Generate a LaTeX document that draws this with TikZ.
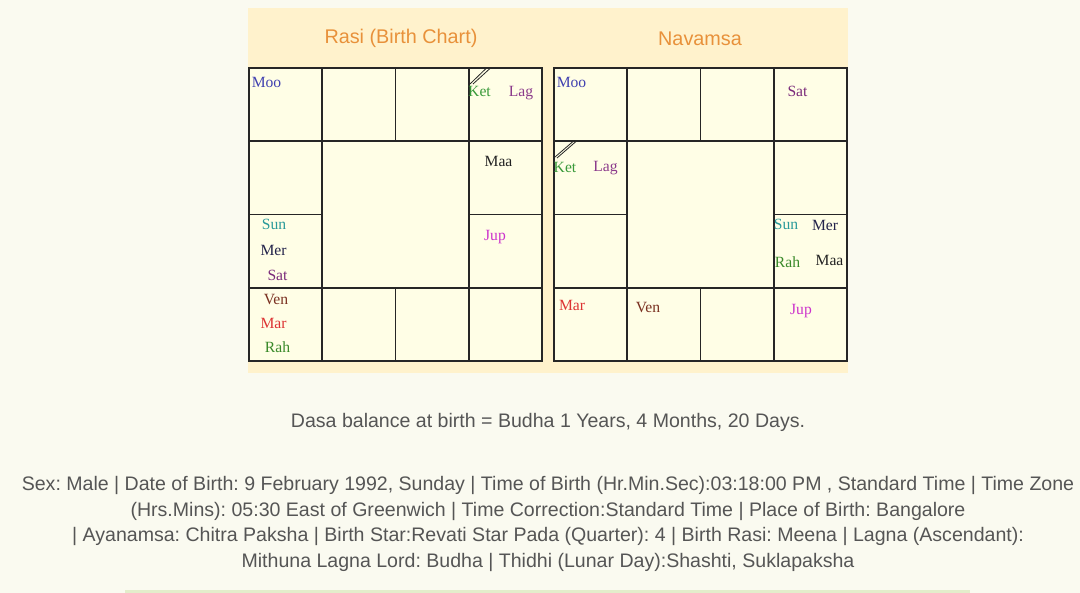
\documentclass[tikz,border=0pt]{standalone}
\usepackage{fontspec}
\setmainfont{Liberation Serif}
\newfontfamily\uifont{Liberation Sans}
\usepackage{xcolor}
\usepackage{tikz}
\usetikzlibrary{positioning}

\definecolor{pagebg}{HTML}{FAFAF0}
\definecolor{panelbg}{HTML}{FFF2CC}
\definecolor{cellbg}{HTML}{FFFEE6}
\definecolor{titlecol}{HTML}{E8913A}
\definecolor{infocol}{HTML}{555555}
\definecolor{barcol}{HTML}{E3EDCB}
\definecolor{cmoo}{HTML}{4040B0}
\definecolor{cket}{HTML}{3A9A3A}
\definecolor{clag}{HTML}{8B3A8B}
\definecolor{cmaa}{HTML}{222222}
\definecolor{csun}{HTML}{2A9A9A}
\definecolor{cmer}{HTML}{22224A}
\definecolor{csat}{HTML}{7A2A7A}
\definecolor{cjup}{HTML}{CC33CC}
\definecolor{cven}{HTML}{7A3020}
\definecolor{cmar}{HTML}{DD3333}
\definecolor{crah}{HTML}{3A8A2A}

\begin{document}
\frenchspacing
\begin{tikzpicture}[
  x=0.5pt, y=-0.5pt,
  grid/.style={draw=black!85, line width=0.8pt},
  planet/.style={inner sep=0pt, font=\fontsize{7.8}{9}\selectfont},
  charttitle/.style={inner sep=0pt, text=titlecol, font=\uifont\fontsize{9.9}{12}\selectfont},
  info/.style={inner sep=0pt, text=infocol, align=center, font=\uifont\fontsize{9.78}{12.95}\selectfont},
  ketmark/.style={draw=black!85, line width=0.4pt}
]
\useasboundingbox (0,0) rectangle (1080,593);
% page and panel
\fill[pagebg] (0,0) rectangle (1080,593);
\fill[panelbg] (248,8) rectangle (848,373);
\fill[barcol] (125,590) rectangle (970,593);

% the two square charts
\foreach \ox in {249,554} {
  \fill[cellbg] (\ox,68) rectangle (\ox+293,361);
  \draw[grid] (\ox,68) rectangle (\ox+293,361);
  \draw[grid] (\ox+73.25,141.25) rectangle (\ox+219.75,287.75);
  \foreach \c in {73.25,146.5,219.75} {
    \draw[grid] (\ox+\c,68) -- (\ox+\c,141.25) (\ox+\c,287.75) -- (\ox+\c,361);
    \draw[grid] (\ox,68+\c) -- (\ox+73.25,68+\c) (\ox+219.75,68+\c) -- (\ox+293,68+\c);
  }
}

\node[charttitle] (rasititle) at (401,38.5) {Rasi (Birth Chart)};
\node[charttitle] (navtitle) at (700,38.5) {Navamsa};

% Rasi
\node[planet, text=cmoo] (rmoo) at (266.5,82) {Moo};
\node[planet, text=cket] (rket) at (479.5,91.5) {Ket};
\node[planet, text=clag] (rlag) at (521,93) {Lag};
\node[planet, text=cmaa] (rmaa) at (498.5,161.5) {Maa};
\node[planet, text=csun] (rsun) at (274,224) {Sun};
\node[planet, text=cmer] (rmer) at (273.5,250) {Mer};
\node[planet, text=csat] (rsat) at (277.5,275) {Sat};
\node[planet, text=cjup] (rjup) at (495,237.5) {Jup};
\node[planet, text=cven] (rven) at (276,300) {Ven};
\node[planet, text=cmar] (rmar) at (273.5,323.5) {Mar};
\node[planet, text=crah] (rrah) at (277.5,347.5) {Rah};
\draw[ketmark] (470,84) -- (486,68.5) (473,84) -- (490,68.5);

% Navamsa
\node[planet, text=cmoo] (nmoo) at (571.5,82) {Moo};
\node[planet, text=csat] (nsat) at (797.5,91.5) {Sat};
\node[planet, text=cket] (nket) at (565,167) {Ket};
\node[planet, text=clag] (nlag) at (605.5,168) {Lag};
\node[planet, text=csun] (nsun) at (786,224) {Sun};
\node[planet, text=cmer] (nmer) at (825,225) {Mer};
\node[planet, text=crah] (nrah) at (787.5,262) {Rah};
\node[planet, text=cmaa] (nmaa) at (829.5,260.5) {Maa};
\node[planet, text=cmar] (nmar) at (572,305) {Mar};
\node[planet, text=cven] (nven) at (648,307.5) {Ven};
\node[planet, text=cjup] (njup) at (801,311) {Jup};
\draw[ketmark] (555,157) -- (573,141.5) (557,158) -- (576,141.5);

% texts below
\node[info] (dasa) at (548,422.5) {Dasa balance at birth = Budha 1 Years, 4 Months, 20 Days.};
\node[info] (details) at (548,524) {Sex: Male | Date of Birth: 9 February 1992, Sunday | Time of Birth (Hr.Min.Sec):03:18:00 PM , Standard Time | Time Zone\\
(Hrs.Mins): 05:30 East of Greenwich | Time Correction:Standard Time | Place of Birth: Bangalore\\
| Ayanamsa: Chitra Paksha | Birth Star:Revati Star Pada (Quarter): 4 | Birth Rasi: Meena | Lagna (Ascendant):\\
Mithuna Lagna Lord: Budha | Thidhi (Lunar Day):Shashti, Suklapaksha};
\end{tikzpicture}
\end{document}
